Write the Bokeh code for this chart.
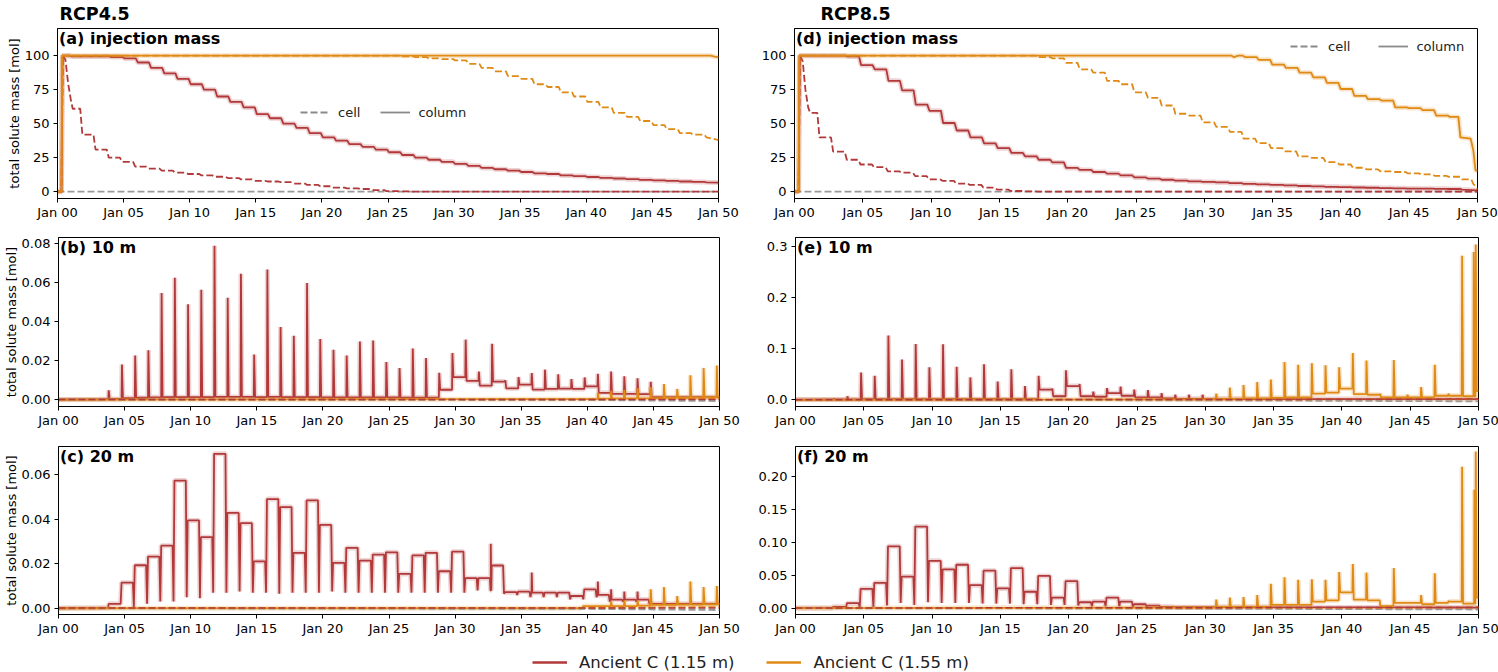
import numpy as np
from bokeh.plotting import figure
from bokeh.layouts import column, row
from bokeh.models import (Range1d, Label, Legend, LegendItem, FixedTicker,
                          NumeralTickFormatter)
from bokeh.embed import file_html
from bokeh.resources import INLINE

# ---------------------------------------------------------------- data
YEAR_TICKS = [0, 5, 10, 15, 20, 25, 30, 35, 40, 45, 50]
YEAR_LABELS = ["Jan 00", "Jan 05", "Jan 10", "Jan 15", "Jan 20", "Jan 25",
               "Jan 30", "Jan 35", "Jan 40", "Jan 45", "Jan 50"]
SERIES = ["Ancient C (1.15 m)", "Ancient C (1.55 m)"]

# (a) RCP4.5 injection mass  -- yearly plateaus (mol)
a_red_col_head_t = [0, 0.3, 0.38]
a_red_col_head_v = [0, 0, 100]
a_red_col_steps = [99.5, 99.5, 99.5, 99, 98, 95, 91, 87, 83, 79, 75, 70, 66, 62,
                   57, 54, 50, 47, 43, 40, 37.5, 35, 33, 31, 29, 27, 25, 23.5,
                   22, 20.5, 19, 17.5, 16.5, 15.5, 14.5, 13.5, 13, 12, 11.5,
                   10.8, 10.2, 9.7, 9.2, 8.7, 8.3, 7.9, 7.5, 7.2, 6.9]
a_red_col_end = 6.7
a_red_cell_head_t = [0, 0.3, 0.4, 0.6, 0.8, 1.0, 1.15]
a_red_cell_head_v = [0, 0, 100, 97, 80, 68, 61]
a_red_cell_steps = [42, 31, 25, 22, 18.5, 17, 15.5, 14, 13, 12, 11, 10, 9, 8, 7.5,
                    7, 6, 5, 4, 3, 2.5, 2, 1.2, 0.4, 0.2, 0.1, 0.1]
a_red_cell_end = 0.05
a_or_col_t = [0, 0.3, 0.35, 49.4, 49.7, 50]
a_or_col_v = [0, 0, 100, 100, 99.3, 99]
a_or_cell_head_t = [0, 0.3, 0.36, 25.8]
a_or_cell_head_v = [0, 0, 100, 100]
a_or_cell_steps = [99.5, 99, 98, 97.5, 96.5, 94, 91, 88.5, 85, 83, 79, 77, 73, 70,
                   66, 62, 58, 55, 52, 49, 46, 43, 42, 40]
a_or_cell_end = 38
a_gray_t = [0, 50]
a_gray_v = [0, 0]

# (d) RCP8.5 injection mass
d_red_col_head_t = [0, 0.3, 0.38]
d_red_col_head_v = [0, 0, 100]
d_red_col_steps = [100, 100, 100, 99.5, 93, 90, 81.5, 74.5, 64, 59.5, 50.5, 45, 40,
                   35.5, 32, 28.5, 26, 23.5, 21.5, 17.5, 16, 14.5, 13.3, 12, 10.5,
                   9.6, 8.8, 8.2, 7.6, 7.2, 6.8, 6.3, 5.8, 5.4, 5.0, 4.6, 4.2, 3.9,
                   3.6, 3.4, 3.1, 2.9, 2.7, 2.5, 2.3, 2.2, 2.1, 2.0, 1.6]
d_red_col_end = 1.0
d_red_cell_head_t = [0, 0.3, 0.4, 0.6, 0.8, 1.0, 1.15]
d_red_cell_head_v = [0, 0, 100, 96, 75, 62, 58]
d_red_cell_steps = [40, 29.5, 23.5, 20, 18, 15, 14, 11.5, 9, 8, 6, 5, 3, 1.5, 0.5,
                    0.2, 0.1]
d_red_cell_end = 0.05
d_or_col_head_t = [0, 0.3, 0.35, 32.0, 32.15, 32.5]
d_or_col_head_v = [0, 0, 100, 100, 99, 100]
d_or_col_steps = [99, 97, 93.5, 91, 87.5, 84, 80, 75.5, 70.5, 68, 67, 62, 61.5, 60,
                  56, 55]
d_or_col_tail_t = [48.6, 48.75, 49.5, 49.7, 49.85, 50]
d_or_col_tail_v = [55, 40, 39, 30, 16, 15]
d_or_cell_head_t = [0, 0.3, 0.36, 17.5]
d_or_cell_head_v = [0, 0, 100, 100]
d_or_cell_steps = [99, 98, 94.7, 90, 87.5, 81.5, 79, 73, 69, 63.4, 57.3, 56, 51,
                   47.7, 44, 39, 35.7, 32, 29.6, 26, 24.8, 21.7, 20, 17.6, 16.4,
                   15, 14.5, 13.5, 12.8, 11.6, 11, 9]
d_or_cell_tail_t = [49.55, 49.7, 49.85, 50]
d_or_cell_tail_v = [9, 5.5, 4, 1.5]
d_gray_t = [0, 50]
d_gray_v = [0, 0]

# (b) RCP4.5 10 m  -- annual pulses: peak and level after each pulse
b_red_pre_t = [0, 3.0, 3.7]
b_red_pre_v = [0.0001, 0.0002, 0.0003]
b_red_first = 3.8
b_red_peak = [0.0048, 0.018, 0.0227, 0.0253, 0.0547, 0.0626, 0.0489, 0.0564, 0.079,
              0.0523, 0.0646, 0.0232, 0.0668, 0.0373, 0.0328, 0.0598, 0.0311,
              0.0256, 0.0227, 0.0299, 0.0304, 0.0193, 0.0162, 0.0262, 0.0214,
              0.0138, 0.0239, 0.0308, 0.0144, 0.0287, 0.0100, 0.0116, 0.0137,
              0.0154, 0.013, 0.0106, 0.0114, 0.0133, 0.0144, 0.012, 0.011, 0.0092]
b_red_base = [0.0004, 0.0008, 0.0010, 0.0012, 0.0013, 0.0013, 0.0013, 0.0013,
              0.0014, 0.0014, 0.0014, 0.0013, 0.0014, 0.0013, 0.0013, 0.0013,
              0.0012, 0.0012, 0.0012, 0.0012, 0.0012, 0.0012, 0.0011, 0.0011,
              0.0011, 0.0051, 0.0116, 0.0096, 0.0072, 0.0093, 0.0058, 0.0077,
              0.0052, 0.0055, 0.0057, 0.0055, 0.0068, 0.0035, 0.0030, 0.0030,
              0.0028, 0.0013]
b_or_pre_t = [0, 40.7]
b_or_pre_v = [0.0, 0.0003]
b_or_first = 40.8
b_or_peak = [0.0035, 0.0045, 0.005, 0.006, 0.0065, 0.008, 0.0055, 0.0125, 0.0163,
             0.0175]
b_or_base = [0.0005, 0.0006, 0.0006, 0.0007, 0.0008, 0.0009, 0.0010, 0.0011,
             0.0012, 0.0014]
b_red_cell_t = [0, 50]
b_red_cell_v = [0.0001, 0.0001]
b_or_cell_t = [0, 40, 50]
b_or_cell_v = [0.0, 0.0002, 0.0004]
b_gray_t = [0, 40, 50]
b_gray_v = [0.0, -0.0002, -0.0007]

# (c) RCP4.5 20 m -- annual plateaus with dips between them
c_red_pre_t = [0, 3.0, 3.75, 3.8, 4.65]
c_red_pre_v = [0.0, 0.0002, 0.0003, 0.002, 0.002]
c_red_first = 4.75
c_red_plat = [0.0115, 0.0193, 0.0232, 0.0281, 0.0573, 0.0394, 0.0319, 0.0693,
              0.0428, 0.0382, 0.021, 0.049, 0.0454, 0.0249, 0.0484, 0.0374,
              0.0204, 0.0271, 0.0214, 0.0241, 0.0251, 0.0154, 0.0237, 0.0249,
              0.0166, 0.0254, 0.0135, 0.0135, 0.0192, 0.0072, 0.0075, 0.007,
              0.007, 0.007, 0.0055, 0.0085, 0.006, 0.0039, 0.0039, 0.0039,
              0.002, 0.002, 0.002, 0.002, 0.002, 0.002]
c_red_dip = [0.002, 0.0005, 0.002, 0.003, 0.003, 0.005, 0.0045, 0.007, 0.007,
             0.0075, 0.007, 0.007, 0.0065, 0.007, 0.007, 0.007, 0.0075, 0.007,
             0.007, 0.007, 0.007, 0.007, 0.007, 0.007, 0.007, 0.007, 0.007, 0.008,
             0.008, 0.0065, 0.006, 0.005, 0.005, 0.005, 0.004, 0.004, 0.005,
             0.003, 0.003, 0.003, 0.002, 0.002, 0.002, 0.002, 0.002, 0.002]
c_red_spk_t = [32.7, 35.8, 40.8, 41.8, 42.8, 43.8]
c_red_spk_v = [0.029, 0.016, 0.012, 0.0085, 0.0075, 0.0075]
c_or_pre_t = [0, 39.6, 39.7, 41.7]
c_or_pre_v = [0.0, 0.0, 0.001, 0.001]
c_or_first = 41.8
c_or_peak = [0.003, 0.0035, 0.0035, 0.0085, 0.0095, 0.0055, 0.012, 0.0095, 0.010]
c_or_base = [0.001, 0.001, 0.0012, 0.0015, 0.0015, 0.0016, 0.0016, 0.0017, 0.0018]
c_red_cell_t = [0, 50]
c_red_cell_v = [0.0001, 0.0001]
c_or_cell_t = [0, 40, 50]
c_or_cell_v = [0.0, 0.0002, 0.0005]
c_gray_t = [0, 40, 50]
c_gray_v = [0.0, -0.0003, -0.0008]

# (e) RCP8.5 10 m
e_red_pre_t = [0, 2.7]
e_red_pre_v = [0.0005, 0.0008]
e_red_first = 2.8
e_red_peak = [0.002, 0.007, 0.0535, 0.047, 0.126, 0.079, 0.1096, 0.064, 0.109,
              0.065, 0.044, 0.070, 0.036, 0.060, 0.027, 0.047, 0.022, 0.058,
              0.031, 0.016, 0.023, 0.026, 0.020, 0.019, 0.013, 0.010, 0.010, 0.010]
e_red_base = [0.0008, 0.001, 0.0012, 0.0012, 0.0013, 0.0013, 0.0013, 0.0013,
              0.0013, 0.0013, 0.0013, 0.0013, 0.0013, 0.0013, 0.0013, 0.020,
              0.007, 0.027, 0.007, 0.006, 0.013, 0.008, 0.005, 0.005, 0.003,
              0.002, 0.002, 0.0015]
e_or_pre_t = [0, 30.7]
e_or_pre_v = [0.0, 0.001]
e_or_first = 30.8
e_or_peak = [0.012, 0.024, 0.029, 0.035, 0.040, 0.074, 0.069, 0.072, 0.068, 0.064,
             0.092, 0.077, 0.012, 0.078, 0.010, 0.025, 0.069, 0.012, 0.283, 0.305]
e_or_base = [0.002, 0.002, 0.003, 0.003, 0.004, 0.005, 0.005, 0.012, 0.014, 0.022,
             0.011, 0.010, 0.005, 0.005, 0.005, 0.005, 0.008, 0.008, 0.007, 0.017]
e_or_spk_t = [49.65]
e_or_spk_v = [0.29]
e_red_cell_t = [0, 30, 50]
e_red_cell_v = [0.0002, 0.0005, 0.0015]
e_or_cell_t = [0, 30, 50]
e_or_cell_v = [0.0, 0.0005, 0.001]
e_gray_t = [0, 30, 50]
e_gray_v = [0.0, -0.001, -0.003]

# (f) RCP8.5 20 m
f_red_pre_t = [0, 2.6]
f_red_pre_v = [0.0002, 0.0004]
f_red_first = 2.75
f_red_plat = [0.002, 0.0076, 0.0294, 0.0385, 0.094, 0.048, 0.124, 0.072, 0.059,
              0.066, 0.035, 0.057, 0.030, 0.061, 0.025, 0.049, 0.016, 0.041,
              0.009, 0.010, 0.016, 0.010, 0.006, 0.004, 0.002, 0.0016, 0.0015,
              0.0015, 0.0015, 0.0014, 0.0014, 0.0014, 0.0013, 0.0013, 0.0013,
              0.0013, 0.0012, 0.0012, 0.0012, 0.0012, 0.0011, 0.0011, 0.0011,
              0.0011, 0.0010, 0.0010, 0.0010, 0.0010]
f_red_dip = [0.0004, 0.0008, 0.001, 0.002, 0.004, 0.008, 0.005, 0.009, 0.008,
             0.008, 0.008, 0.007, 0.007, 0.007, 0.006, 0.006, 0.005, 0.005, 0.004,
             0.003, 0.003, 0.003, 0.002, 0.002, 0.0015, 0.0015, 0.0014, 0.0014,
             0.0014, 0.0013, 0.0013, 0.0013, 0.0012, 0.0012, 0.0012, 0.0012,
             0.0011, 0.0011, 0.0011, 0.0011, 0.0010, 0.0010, 0.0010, 0.0010,
             0.0009, 0.0009, 0.0009, 0.0009]
f_or_pre_t = [0, 30.7]
f_or_pre_v = [0.0, 0.001]
f_or_first = 30.8
f_or_peak = [0.013, 0.016, 0.017, 0.020, 0.037, 0.047, 0.043, 0.044, 0.043, 0.055,
             0.067, 0.054, 0.005, 0.061, 0.008, 0.020, 0.053, 0.011, 0.215, 0.238]
f_or_base = [0.002, 0.002, 0.002, 0.002, 0.005, 0.005, 0.005, 0.010, 0.012, 0.024,
             0.013, 0.012, 0.003, 0.008, 0.008, 0.006, 0.008, 0.010, 0.007, 0.016]
f_or_spk_t = [49.7]
f_or_spk_v = [0.18]
f_red_cell_t = [0, 30, 50]
f_red_cell_v = [0.0002, 0.0008, 0.0012]
f_or_cell_t = [0, 30, 50]
f_or_cell_v = [0.0, 0.0003, 0.0008]
f_gray_t = [0, 30, 50]
f_gray_v = [0.0, -0.0008, -0.002]

# ---------------------------------------------------------------- builders
RED = "#b2393a"
ORANGE = "#e08a16"
GRAY = "#9a9a9a"
KEY_GRAY = "#8a8a8a"
FONT = "DejaVu Sans"
END = 50


def stairs(head_t, head_v, first, steps, shift, tail_t, tail_v):
    T, V = list(head_t), list(head_v)
    prev = V[-1]
    for i, v in enumerate(steps):
        t = first + i + shift
        T += [t - 0.08, t + 0.08]
        V += [prev, v]
        prev = v
    return T + list(tail_t), V + list(tail_v)


def pulses(pre_t, pre_v, first, peaks, bases):
    T, V = list(pre_t), list(pre_v)
    prev = V[-1]
    for i, (pk, b) in enumerate(zip(peaks, bases)):
        t = first + i
        T += [t - 0.03, t, t + 0.07]
        V += [prev, pk, b]
        prev = b
    return T + [END], V + [prev]


def saw(pre_t, pre_v, first, plats, dips):
    T, V = list(pre_t), list(pre_v)
    p = V[-1]
    for i, (p, d) in enumerate(zip(plats, dips)):
        t = first + i
        T += [t - 0.05, t + 0.02, t + 0.88]
        V += [d, p, p]
    return T + [END], V + [p]


def add_spikes(T, V, st, sv):
    T, V = list(T), list(V)
    for t, v in zip(st, sv):
        b = float(np.interp(t, T, V))
        pts = sorted(list(zip(T, V)) + [(t - 0.02, b), (t, v), (t + 0.04, b)],
                     key=lambda q: q[0])
        T = [q[0] for q in pts]
        V = [q[1] for q in pts]
    return T, V


# ---------------------------------------------------------------- layout
LEFT = dict(fw=661, bl=57, br=28)
RIGHT = dict(fw=683, bl=48, br=21)
ROWS = [dict(fh=170, bt=28, bb=38), dict(fh=169, bt=1, bb=39),
        dict(fh=168, bt=1, bb=30)]


def panel(colspec, rowspec, yr, yticks, yfmt, label, ylabel=False,
          title=None, title_off=0):
    p = figure(frame_width=colspec["fw"], frame_height=rowspec["fh"],
               min_border_left=colspec["bl"], min_border_right=colspec["br"],
               min_border_top=rowspec["bt"], min_border_bottom=rowspec["bb"],
               x_range=Range1d(0, 50), y_range=Range1d(*yr),
               output_backend="svg", toolbar_location=None)
    p.xgrid.visible = False
    p.ygrid.visible = False
    p.outline_line_color = "black"
    p.outline_line_width = 1
    p.outline_line_alpha = 1
    for ax in (p.xaxis[0], p.yaxis[0]):
        ax.major_tick_in = 0
        ax.major_tick_out = 4
        ax.minor_tick_in = 0
        ax.minor_tick_out = 0
        ax.major_tick_line_color = "black"
        ax.axis_line_color = "black"
        ax.major_label_text_font = FONT
        ax.major_label_text_font_size = "13px"
        ax.major_label_text_color = "black"
    p.xaxis.major_label_standoff = 2
    p.yaxis.major_label_standoff = 4
    p.xaxis.ticker = FixedTicker(ticks=YEAR_TICKS)
    p.xaxis.major_label_overrides = dict(zip(YEAR_TICKS, YEAR_LABELS))
    p.yaxis.ticker = FixedTicker(ticks=yticks)
    if yfmt:
        p.yaxis.formatter = NumeralTickFormatter(format=yfmt)
    if ylabel:
        p.yaxis.axis_label = "total solute mass [mol]"
        p.yaxis.axis_label_text_font = FONT
        p.yaxis.axis_label_text_font_size = "13px"
        p.yaxis.axis_label_text_font_style = "normal"
        p.yaxis.axis_label_text_color = "black"
        p.yaxis.axis_label_standoff = 0
    if title:
        p.title.text = title
        p.title.text_font = FONT
        p.title.text_font_size = "17.5px"
        p.title.text_font_style = "bold"
        p.title.text_color = "black"
        p.title.align = "left"
        p.title.vertical_align = "top"
        p.title.offset = title_off
        p.title.standoff = 5
    y0, y1 = yr
    ytop = y1 - 0.5 * (y1 - y0) / rowspec["fh"]
    xo = 1.5 * 50 / colspec["fw"]
    p.add_layout(Label(x=xo, y=ytop, text=label, text_font=FONT,
                       text_font_size="16px", text_font_style="bold",
                       text_baseline="top", text_color="black"))
    return p


def col_line(p, T, V, color):
    p.line(T, V, line_color=color, line_width=5, line_alpha=0.22)
    p.line(T, V, line_color=color, line_width=1.8)


def cell_line(p, T, V, color, width=1.8):
    p.line(T, V, line_color=color, line_width=width, line_dash="7 3")


def style_legend(p, loc, y_out, spacing):
    # key renderers drawn off-frame so only their legend glyphs show
    r1 = p.line(x=[-20, -10], y=[y_out, y_out], line_color=KEY_GRAY,
                line_width=1.8, line_dash="7 3")
    r2 = p.line(x=[-20, -10], y=[y_out, y_out], line_color=KEY_GRAY,
                line_width=1.8)
    leg = Legend(items=[LegendItem(label="cell", renderers=[r1]),
                        LegendItem(label="column", renderers=[r2])],
                 orientation="horizontal", location=loc,
                 border_line_alpha=0, background_fill_alpha=0, padding=0,
                 margin=0, spacing=spacing, label_standoff=8, glyph_width=30,
                 glyph_height=20, label_height=20, label_text_font=FONT,
                 label_text_font_size="13px", label_text_color="#222222")
    p.add_layout(leg)


# (a)
fa = panel(LEFT, ROWS[0], (-5, 120), [0, 25, 50, 75, 100], None,
           "(a) injection mass", ylabel=True, title="RCP4.5", title_off=2)
cell_line(fa, a_gray_t, a_gray_v, GRAY)
col_line(fa, *stairs(a_red_col_head_t, a_red_col_head_v, 1, a_red_col_steps, 0.0,
                     [END], [a_red_col_end]), RED)
cell_line(fa, *stairs(a_red_cell_head_t, a_red_cell_head_v, 2, a_red_cell_steps,
                      -0.2, [END], [a_red_cell_end]), RED)
cell_line(fa, *stairs(a_or_cell_head_t, a_or_cell_head_v, 26, a_or_cell_steps,
                      0.0, [END], [a_or_cell_end]), ORANGE)
col_line(fa, a_or_col_t, a_or_col_v, ORANGE)
style_legend(fa, (243, 76), 50, 20)

# (d)
fd = panel(RIGHT, ROWS[0], (-5, 120), [0, 25, 50, 75, 100], None,
           "(d) injection mass", title="RCP8.5", title_off=26)
cell_line(fd, d_gray_t, d_gray_v, GRAY)
col_line(fd, *stairs(d_red_col_head_t, d_red_col_head_v, 1, d_red_col_steps, -0.2,
                     [END], [d_red_col_end]), RED)
cell_line(fd, *stairs(d_red_cell_head_t, d_red_cell_head_v, 2, d_red_cell_steps,
                      -0.25, [END], [d_red_cell_end]), RED)
cell_line(fd, *stairs(d_or_cell_head_t, d_or_cell_head_v, 18, d_or_cell_steps,
                      -0.2, d_or_cell_tail_t, d_or_cell_tail_v), ORANGE)
col_line(fd, *stairs(d_or_col_head_t, d_or_col_head_v, 33, d_or_col_steps, -0.1,
                     d_or_col_tail_t, d_or_col_tail_v), ORANGE)
style_legend(fd, (496, 142), 50, 28)

# (b)
fb = panel(LEFT, ROWS[1], (-0.0035, 0.0832), [0, 0.02, 0.04, 0.06, 0.08], "0.00",
           "(b) 10 m", ylabel=True)
col_line(fb, *pulses(b_red_pre_t, b_red_pre_v, b_red_first, b_red_peak, b_red_base), RED)
col_line(fb, *pulses(b_or_pre_t, b_or_pre_v, b_or_first, b_or_peak, b_or_base), ORANGE)
cell_line(fb, b_gray_t, b_gray_v, GRAY)
cell_line(fb, b_or_cell_t, b_or_cell_v, ORANGE)
cell_line(fb, b_red_cell_t, b_red_cell_v, RED, 1.5)

# (e)
fe = panel(RIGHT, ROWS[1], (-0.0131, 0.3186), [0, 0.1, 0.2, 0.3], "0.0", "(e) 10 m")
col_line(fe, *pulses(e_red_pre_t, e_red_pre_v, e_red_first, e_red_peak, e_red_base), RED)
col_line(fe, *add_spikes(*pulses(e_or_pre_t, e_or_pre_v, e_or_first, e_or_peak,
                                 e_or_base), e_or_spk_t, e_or_spk_v), ORANGE)
cell_line(fe, e_gray_t, e_gray_v, GRAY)
cell_line(fe, e_or_cell_t, e_or_cell_v, ORANGE)
cell_line(fe, e_red_cell_t, e_red_cell_v, RED, 1.5)

# (c)
fc = panel(LEFT, ROWS[2], (-0.0028, 0.0726), [0, 0.02, 0.04, 0.06], "0.00",
           "(c) 20 m", ylabel=True)
col_line(fc, *add_spikes(*saw(c_red_pre_t, c_red_pre_v, c_red_first, c_red_plat,
                              c_red_dip), c_red_spk_t, c_red_spk_v), RED)
col_line(fc, *pulses(c_or_pre_t, c_or_pre_v, c_or_first, c_or_peak, c_or_base), ORANGE)
cell_line(fc, c_gray_t, c_gray_v, GRAY)
cell_line(fc, c_or_cell_t, c_or_cell_v, ORANGE)
cell_line(fc, c_red_cell_t, c_red_cell_v, RED, 1.5)

# (f)
ff = panel(RIGHT, ROWS[2], (-0.0096, 0.2457), [0, 0.05, 0.10, 0.15, 0.20], "0.00",
           "(f) 20 m")
col_line(ff, *saw(f_red_pre_t, f_red_pre_v, f_red_first, f_red_plat, f_red_dip), RED)
col_line(ff, *add_spikes(*pulses(f_or_pre_t, f_or_pre_v, f_or_first, f_or_peak,
                                 f_or_base), f_or_spk_t, f_or_spk_v), ORANGE)
cell_line(ff, f_gray_t, f_gray_v, GRAY)
cell_line(ff, f_or_cell_t, f_or_cell_v, ORANGE)
cell_line(ff, f_red_cell_t, f_red_cell_v, RED, 1.5)

# bottom legend
lg = figure(width=1498, height=28, x_range=Range1d(0, 1), y_range=Range1d(0, 1),
            x_axis_type=None, y_axis_type=None, min_border=0,
            output_backend="svg", toolbar_location=None)
lg.outline_line_color = None
lg.xgrid.visible = False
lg.ygrid.visible = False
lr1 = lg.line(x=[5, 6], y=[5, 5], line_color=RED, line_width=2.5)
lr2 = lg.line(x=[5, 6], y=[5, 5], line_color=ORANGE, line_width=2.5)
bleg = Legend(items=[LegendItem(label=SERIES[0], renderers=[lr1]),
                     LegendItem(label=SERIES[1], renderers=[lr2])],
              orientation="horizontal", location=(532, 0),
              border_line_alpha=0, background_fill_alpha=0, padding=0, margin=0,
              spacing=32, label_standoff=12, glyph_width=35, glyph_height=20,
              label_height=20, label_text_font=FONT, label_text_font_size="16.5px",
              label_text_color="#222222")
lg.add_layout(bleg)

root = column(row(fa, fd), row(fb, fe), row(fc, ff), lg)
open("out.html", "w").write(file_html(root, INLINE))
